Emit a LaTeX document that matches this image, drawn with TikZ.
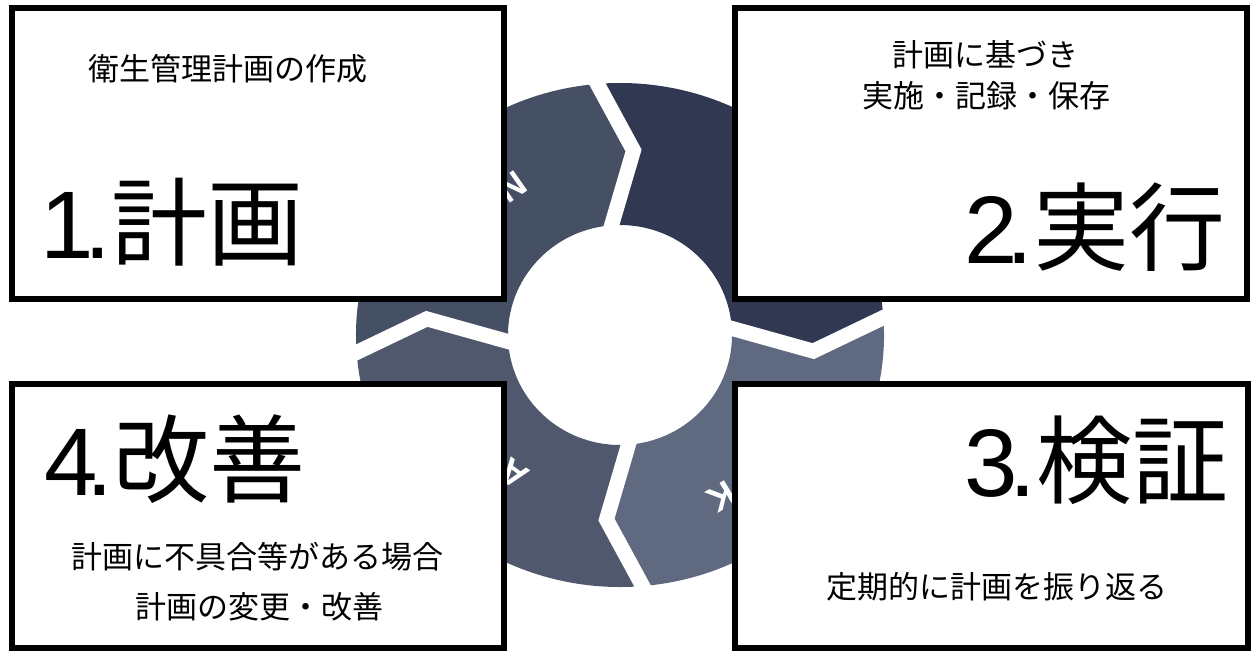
\documentclass[tikz,border=0pt]{standalone}
\usepackage{fontspec}
\setmainfont{Noto Sans CJK JP}
\newfontfamily\tagfont{Liberation Sans}
\usepackage{tikz}
\usetikzlibrary{calc}
\definecolor{ringdo}{HTML}{313852}
\definecolor{ringcheck}{HTML}{5F6A80}
\definecolor{ringact}{HTML}{4F586C}
\definecolor{ringplan}{HTML}{465064}
\tikzstyle{stepbox} = [rectangle, draw=black, line width=6pt, fill=white, inner sep=0pt]
\tikzstyle{bigtitle} = [font=\fontsize{96}{100}\selectfont, inner sep=0pt, anchor=base west]
\tikzstyle{note} = [font=\fontsize{31}{36}\selectfont, inner sep=0pt, anchor=base]
\tikzstyle{gapline} = [white, line width=15pt, line join=miter]
\tikzstyle{ringtag} = [text=white, font=\tagfont\bfseries\fontsize{36}{38}\selectfont, inner sep=0pt]
% number in a narrow sans, tightened before the dot
\newcommand{\stepno}[2]{{\tagfont #1\kern#2pt.}}

\begin{document}
\begin{tikzpicture}[x=1pt, y=-1pt]
\useasboundingbox (0,0) rectangle (1252,651);

% ring of four arrows
\begin{scope}[shift={(620,335)}, y=1pt]
\foreach \s/\e/\col in {96/5/ringdo, 5/-84/ringcheck, -84/-175/ringact, 185/96/ringplan}
  \fill[\col] (\s:264 and 252) arc[start angle=\s, end angle=\e, x radius=264, y radius=252]
    -- ({\e-10}:194 and 185) -- (\e:112 and 110)
    arc[start angle=\e, end angle=\s, x radius=112, y radius=110]
    -- ({\s-10}:194 and 185) -- cycle;
\foreach \g in {5,96,185,276}
  \draw[gapline] (\g:104 and 102) -- ({\g-10}:194 and 185) -- (\g:276 and 264);
\end{scope}

\node (tagplan)  [ringtag, rotate=35]   at (512,187) {N};
\node (tagact)   [ringtag, rotate=144]  at (514,474) {A};
\node (tagcheck) [ringtag, rotate=-149] at (722,497) {K};

% boxes
\node (plan)  [stepbox, minimum width=492pt, minimum height=291pt] at (258,153.5) {};
\node (do)    [stepbox, minimum width=512pt, minimum height=291pt] at (991,153.5) {};
\node (act)   [stepbox, minimum width=492pt, minimum height=264pt] at (258,516) {};
\node (check) [stepbox, minimum width=513pt, minimum height=264pt] at (991.5,516) {};

\node (plantitle)  [bigtitle] at (40,258)  {\stepno{1}{-9}計画};
\node (dotitle)    [bigtitle] at (964,263) {\stepno{2}{-11}実行};
\node (checktitle) [bigtitle] at (964,496) {\stepno{3}{-8}検証};
\node (acttitle)   [bigtitle] at (44,495)  {\stepno{4}{-11}改善};

\node (plannote)   [note] at (228,80) {衛生管理計画の作成};
\node (donote1)    [note] at (985,66) {計画に基づき};
\node (donote2)    [note] at (986,107) {実施・記録・保存};
\node (checknote)  [note] at (997,598) {定期的に計画を振り返る};
\node (actnote1)   [note] at (257,568) {計画に不具合等がある場合};
\node (actnote2)   [note] at (259,618) {計画の変更・改善};

\end{tikzpicture}
\end{document}
